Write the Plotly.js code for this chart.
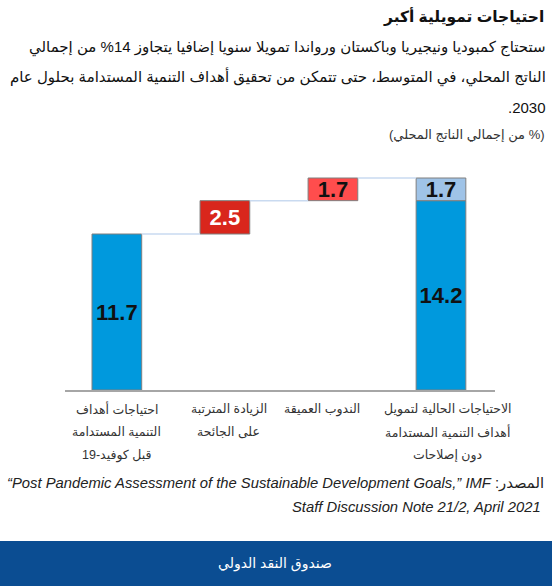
<!DOCTYPE html>
<html>
<head>
<meta charset="utf-8">
<script src="https://cdn.plot.ly/plotly-3.0.1.min.js"></script>
<style>
  html, body { margin: 0; padding: 0; background: #fff; }
  #chart { width: 552px; height: 586px; }
</style>
</head>
<body>
<div id="chart"></div>
<script>
// ---------------- DATA ----------------
const categoryLabels = [
  ["احتياجات أهداف", "التنمية المستدامة", "قبل كوفيد-19"],
  ["الزيادة المترتبة", "على الجائحة"],
  ["الندوب العميقة"],
  ["الاحتياجات الحالية لتمويل", "أهداف التنمية المستدامة", "دون إصلاحات"]
];
const preCovidNeeds = 11.7;      // bar 1 (total)
const pandemicIncrease = 2.5;    // bar 2 (step)
const scarring = 1.7;            // bar 3 (step)
const currentNeeds = 14.2;       // bar 4, lower part
const reformGap = 1.7;           // bar 4, upper part

const titleText = "احتياجات تمويلية أكبر";
const subtitleLines = [
  "ستحتاج كمبوديا ونيجيريا وباكستان ورواندا تمويلا سنويا إضافيا يتجاوز 14% من إجمالي",
  "الناتج المحلي، في المتوسط، حتى تتمكن من تحقيق أهداف التنمية المستدامة بحلول عام",
  "2030."
];
const unitsText = "(% من إجمالي الناتج المحلي)";
const sourceLabel = "المصدر:";
const sourceLine1 = "“Post Pandemic Assessment of the Sustainable Development Goals,” IMF";
const sourceLine2 = "Staff Discussion Note 21/2, April 2021";
const bandText = "صندوق النقد الدولي";

// ---------------- LAYOUT HELPERS ----------------
const W = 552, H = 586;
const M = { l: 65, r: 57, t: 150, b: 196 };
const PW = W - M.l - M.r, PH = H - M.t - M.b;
const px = x => (x - M.l) / PW;
const py = y => (H - M.b - y) / PH;
const RLE = "\u202B\u200F", PDF = "\u200F\u202C";
const rtl = s => RLE + s + PDF;

const FONT = "Liberation Sans, Arial, DejaVu Sans, sans-serif";
const BAR_W = 0.46;
const labelShift = [0, 4, -11, 7];   // horizontal nudges of category label blocks (px)

// cumulative levels for the waterfall
const lvl1 = preCovidNeeds;
const lvl2 = lvl1 + pandemicIncrease;
const lvl3 = lvl2 + scarring;
const lvl4 = currentNeeds + reformGap;

const barLine = { color: "#7f7f7f", width: 1 };
const barFont = c => ({ family: FONT, size: 22, color: c, weight: "bold" });

const traces = [
  {
    type: "bar", x: [0, 3], y: [preCovidNeeds, currentNeeds], base: [0, 0],
    width: BAR_W, marker: { color: "#0099dd", line: barLine },
    text: [preCovidNeeds.toFixed(1), currentNeeds.toFixed(1)],
    textposition: "inside", insidetextanchor: "middle", constraintext: "none",
    textfont: barFont("#111"), hoverinfo: "skip"
  },
  {
    type: "bar", x: [1], y: [pandemicIncrease], base: [lvl1],
    width: BAR_W, marker: { color: "#d9261c", line: barLine },
    text: [pandemicIncrease.toFixed(1)],
    textposition: "inside", insidetextanchor: "middle", constraintext: "none",
    textfont: barFont("#ffffff"), hoverinfo: "skip"
  },
  {
    type: "bar", x: [2], y: [scarring], base: [lvl2],
    width: BAR_W, marker: { color: "#ff4d4d", line: barLine },
    text: [scarring.toFixed(1)],
    textposition: "inside", insidetextanchor: "middle", constraintext: "none",
    textfont: barFont("#111"), hoverinfo: "skip"
  },
  {
    type: "bar", x: [3], y: [reformGap], base: [currentNeeds],
    width: BAR_W, marker: { color: "#9fc3e7", line: barLine },
    text: [reformGap.toFixed(1)],
    textposition: "inside", insidetextanchor: "middle", constraintext: "none",
    textfont: barFont("#111"), hoverinfo: "skip"
  },
  {
    type: "scatter", mode: "lines",
    x: [0 + BAR_W / 2, 1 - BAR_W / 2, null, 1 + BAR_W / 2, 2 - BAR_W / 2, null, 2 + BAR_W / 2, 3 - BAR_W / 2],
    y: [lvl1, lvl1, null, lvl2, lvl2, null, lvl3, lvl4],
    line: { color: "#c9daf0", width: 1.5 }, hoverinfo: "skip", connectgaps: false
  }
];

const ann = [];
// title & subtitle
ann.push({ text: rtl(titleText), x: px(546), y: py(16), xanchor: "right", yanchor: "middle",
  font: { family: FONT, size: 15.5, color: "#111", weight: "bold" } });
const subY = [47, 77, 107];
subtitleLines.forEach((s, i) => ann.push({ text: rtl(s), x: px(548), y: py(subY[i]), xanchor: "right", yanchor: "middle",
  font: { family: FONT, size: 15, color: "#111" } }));
ann.push({ text: rtl(unitsText), x: px(547), y: py(135), xanchor: "right", yanchor: "middle",
  font: { family: FONT, size: 13, color: "#333" } });

// category labels
const lineY = [409, 432, 455];
categoryLabels.forEach((lines, i) => lines.forEach((s, j) => ann.push({
  text: rtl(s), xref: "x", x: i, xshift: labelShift[i], y: py(lineY[j]), xanchor: "center", yanchor: "middle",
  font: { family: FONT, size: 12.5, color: "#333" }
})));

// source
ann.push({ text: RLE + sourceLabel + " \u200E<i>" + sourceLine1 + PDF + "</i>", x: px(546), y: py(483), xanchor: "right", yanchor: "middle",
  font: { family: FONT, size: 14.8, color: "#222" } });
ann.push({ text: sourceLine2, x: px(543), y: py(507), xanchor: "right", yanchor: "middle",
  font: { family: FONT, size: 14.8, color: "#222", style: "italic" } });

// band text
ann.push({ text: rtl(bandText), x: px(275), y: py(563), xanchor: "center", yanchor: "middle",
  font: { family: FONT, size: 14, color: "#ffffff" } });

ann.forEach(a => { a.xref = a.xref || "paper"; a.yref = "paper"; a.showarrow = false; });

const layout = {
  width: W, height: H,
  margin: M,
  paper_bgcolor: "#ffffff", plot_bgcolor: "#ffffff",
  showlegend: false,
  barmode: "overlay",
  font: { family: FONT },
  xaxis: {
    range: [-0.48, 3.5], showgrid: false, zeroline: false, fixedrange: true,
    showticklabels: false, ticks: "", showline: true, linecolor: "#a6a6a6", linewidth: 2
  },
  yaxis: {
    range: [0, 18.0], showgrid: false, zeroline: false, showticklabels: false,
    ticks: "", showline: false, fixedrange: true
  },
  shapes: [
    { type: "rect", xref: "paper", yref: "paper", x0: px(0), x1: px(W), y0: py(H), y1: py(541),
      fillcolor: "#0b4d92", line: { width: 0 }, layer: "below" }
  ],
  annotations: ann
};

Plotly.newPlot("chart", traces, layout, { staticPlot: true, displayModeBar: false });
</script>
</body>
</html>
